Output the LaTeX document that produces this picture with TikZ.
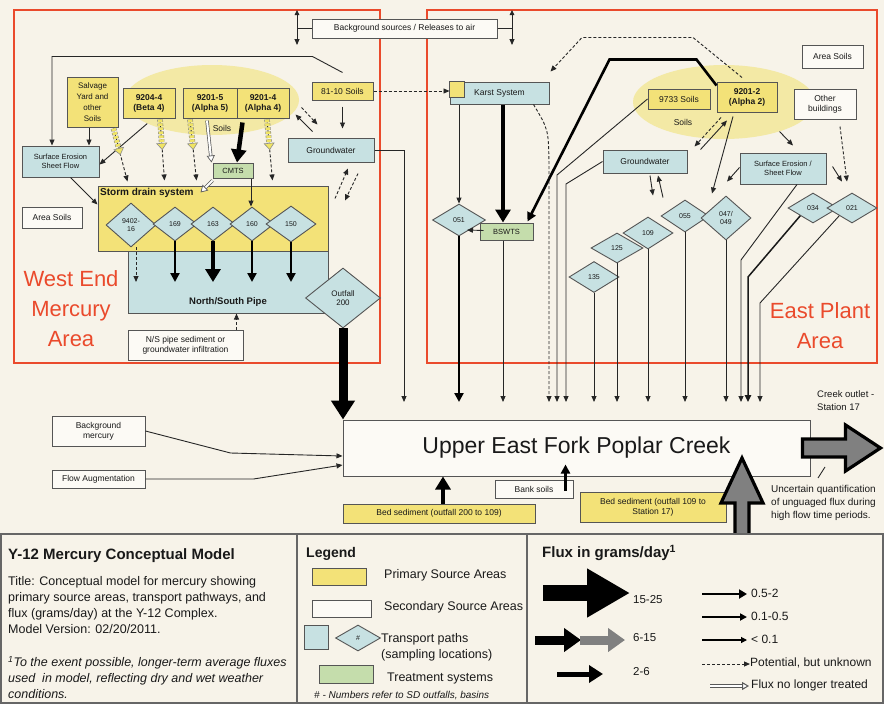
\documentclass[tikz,border=0pt]{standalone}
\usepackage{fontspec}
\setmainfont{Liberation Sans}
\usetikzlibrary{arrows.meta,shapes.geometric,calc}
\definecolor{bgc}{RGB}{247,243,233}
\definecolor{ybox}{RGB}{243,226,120}
\definecolor{yell}{RGB}{243,233,165}
\definecolor{yflx}{RGB}{240,228,100}
\definecolor{bbox}{RGB}{199,225,226}
\definecolor{gbox}{RGB}{197,221,172}
\definecolor{redl}{RGB}{234,74,44}
\definecolor{edge}{RGB}{85,85,85}
\definecolor{wbox}{RGB}{252,250,245}
\newcommand{\myfs}[2]{\fontsize{#1}{#2}\selectfont}
\begin{document}
\begin{tikzpicture}[x=1pt,y=-1pt,
  every node/.style={font=\myfs{8.5}{10}, text=black!90, inner sep=1pt},
  box/.style={rectangle, draw=edge, line width=1pt, align=center, inner sep=1pt},
  ybx/.style={box, fill=ybox},
  wbx/.style={box, fill=wbox},
  bbx/.style={box, fill=bbox},
  gbx/.style={box, fill=gbox},
  sz/.style 2 args={minimum width=#1, minimum height=#2},
  bld/.style={font=\myfs{8.5}{10}\bfseries},
  sml/.style={font=\myfs{7.5}{9}},
  dia/.style={diamond, draw=edge, line width=0.9pt, fill=bbox, inner sep=0pt, align=center, font=\myfs{7}{8}},
  redtxt/.style={font=\myfs{22}{30}, text=redl, align=center},
  ln/.style={draw=black!85, line width=0.9pt},
  ar/.style={ln, -{Triangle[length=6pt,width=5pt]}},
  ar1/.style={draw=black!90, line width=1.5pt, -{Triangle[length=7pt,width=6.5pt]}},
  ar2/.style={draw=black, line width=2.6pt, -{Triangle[length=9pt,width=9pt]}},
  ar3/.style={draw=black, line width=4.5pt, -{Triangle[length=13pt,width=15pt]}},
  ar4/.style={draw=black, line width=9pt, -{Triangle[length=19pt,width=23pt]}},
  pot/.style={draw=black!85, line width=0.9pt, dash pattern=on 3pt off 2pt, -{Triangle[length=6pt,width=5pt]}},
  hol/.style={draw=black!65, line width=0.7pt, double=white, double distance=2pt, -{Triangle[open, length=7pt, width=8pt, fill=white]}},
  yfl/.style={draw=black!45, line width=0.6pt, dash pattern=on 2.5pt off 1.5pt, double=yflx, double distance=4.5pt, -{Triangle[length=7pt, width=11pt, fill=yflx]}},
  bigout/.style={draw=black, line width=3.2pt, fill=black!50, line join=miter},
]
% background and frames
\path[use as bounding box, fill=bgc] (0,0) rectangle (884,704);
\draw[redl, line width=1.6pt] (14,10) rectangle (380,363);
\draw[redl, line width=1.6pt] (427,10) rectangle (877,363);
\node[redtxt] (westlbl) at (71,309) {West End\\Mercury\\Area};
\node[redtxt] (eastlbl) at (820,326) {East Plant\\Area};

% soil ellipses
\node[ellipse, fill=yell, sz={174pt}{70pt}, inner sep=0pt] (ellW) at (212,100) {};
\node[ellipse, fill=yell, sz={182pt}{74pt}, inner sep=0pt] (ellE) at (724,102) {};
\node (soilsW) at (222,128) {Soils};
\node (soilsE) at (683,122) {Soils};

% ---------- West End nodes ----------
\node[wbx, sz={185pt}{19pt}] (bgsrc) at (404.5,28.5) {Background sources / Releases to air};
\node[ybx, sz={51pt}{50pt}, font=\myfs{8}{11}] (salv) at (92.5,102) {Salvage\\Yard and\\other\\Soils};
\node[ybx, bld, sz={52pt}{30pt}] (beta4) at (149,103) {9204-4\\(Beta 4)};
\node[ybx, bld, sz={54pt}{30pt}] (alpha5) at (210,103) {9201-5\\(Alpha 5)};
\node[ybx, bld, sz={52pt}{30pt}] (alpha4) at (263,103) {9201-4\\(Alpha 4)};
\node[ybx, sz={61pt}{18pt}] (ten81) at (342.5,91) {81-10 Soils};
\node[bbx, sz={86pt}{24pt}] (gwW) at (331,150) {Groundwater};
\node[bbx, sml, sz={77pt}{31pt}] (seW) at (60.5,161.5) {Surface Erosion\\Sheet Flow};
\node[gbx, sml, sz={40pt}{15pt}] (cmts) at (233,170.5) {CMTS};
\node[wbx, sz={60pt}{21pt}] (areaW) at (52,217.5) {Area Soils};
\node[ybx, sz={230pt}{65pt}] (storm) at (213,218.5) {};
\node[bbx, sz={200pt}{62pt}] (nsp) at (228,282) {};
\node[anchor=west, font=\myfs{10}{12}\bfseries] (stormlbl) at (99,193) {Storm drain system};
\node[font=\myfs{9.5}{11}\bfseries] (nsplbl) at (228,302) {North/South Pipe};
\node[dia, sz={50pt}{44pt}] (d9402) at (131,225) {9402-\\16};
\node[dia, sz={44pt}{34pt}] (d169) at (175,224) {169};
\node[dia, sz={44pt}{34pt}] (d163) at (213,224) {163};
\node[dia, sz={44pt}{34pt}] (d160) at (252,224) {160};
\node[dia, sz={50pt}{36pt}] (d150) at (291,224) {150};
\node[wbx, sz={115pt}{30pt}] (sedi) at (185.5,345) {N/S pipe sediment or\\groundwater infiltration};
\node[dia, sz={75pt}{60pt}, font=\myfs{8}{9.5}] (out200) at (343,298) {Outfall\\200};

% ---------- East Plant nodes ----------
\node[bbx, sz={99pt}{22pt}] (karst) at (499.5,93) {Karst System};
\draw[fill=ybox, draw=edge, line width=0.8pt] (karst.north west) rectangle ++(15,16);
\node[dia, sz={53pt}{32pt}] (d051) at (459,220) {051};
\node[gbx, sml, sz={53pt}{17pt}] (bswts) at (506.5,231.5) {BSWTS};
\node[ybx, sz={62pt}{20pt}] (s9733) at (679,99) {9733 Soils};
\node[ybx, bld, sz={60pt}{30pt}] (alpha2) at (747,97) {9201-2\\(Alpha 2)};
\node[wbx, sz={61pt}{23pt}] (areaE) at (832.5,56.5) {Area Soils};
\node[wbx, sz={62pt}{30pt}] (other) at (825,104) {Other\\buildings};
\node[bbx, sz={84pt}{23pt}] (gwE) at (645,161.5) {Groundwater};
\node[bbx, sml, sz={86pt}{31pt}] (seE) at (783,168.5) {Surface Erosion /\\Sheet Flow};
\node[dia, sz={50pt}{31pt}] (d135) at (594,277) {135};
\node[dia, sz={52pt}{30pt}] (d125) at (617,248) {125};
\node[dia, sz={50pt}{32pt}] (d109) at (648,233) {109};
\node[dia, sz={48pt}{32pt}] (d055) at (685,216) {055};
\node[dia, sz={50pt}{44pt}] (d047) at (726,218) {047/\\049};
\node[dia, sz={50pt}{30pt}] (d034) at (813,208) {034};
\node[dia, sz={50pt}{30pt}] (d021) at (852,208) {021};

% ---------- Creek ----------
\node[wbx, sz={467pt}{56pt}, font=\myfs{23}{26}] (creek) at (576.5,448) {Upper East Fork Poplar Creek};
\node[wbx, sz={93pt}{30pt}] (bgm) at (98.5,431) {Background\\mercury};
\node[wbx, sz={93pt}{18pt}] (flow) at (98.5,479) {Flow Augmentation};
\node[ybx, sz={192pt}{19pt}] (bed1) at (439,513.5) {Bed sediment (outfall 200 to 109)};
\node[wbx, sz={78pt}{18pt}] (bank) at (534,489) {Bank soils};
\node[ybx, sz={146pt}{30pt}] (bed2) at (653,507) {Bed sediment (outfall 109 to\\Station 17)};
\node[anchor=west, align=left, font=\myfs{9.5}{13}] (outtxt) at (816,401) {Creek outlet -\\Station 17};
\node[anchor=north west, align=left, font=\myfs{10}{13}] (unctxt) at (770,484) {Uncertain quantification\\of unguaged flux during\\high flow time periods.};

% helper coordinates
\coordinate (ty) at (0,402);
\coordinate (nspin) at (0,282);
\coordinate (bl1) at (297,10);
\coordinate (bl2) at (297,45);
\coordinate (br1) at (512,10);
\coordinate (br2) at (512,45);

% ---------- West connectors ----------
\draw[ln] (bgsrc.west) -- (bgsrc.west -| bl1);
\draw[ln, {Triangle[length=5pt,width=4.5pt]}-{Triangle[length=6pt,width=5pt]}] (bl1) -- (bl2);
\draw[ln] (bgsrc.east) -- (bgsrc.east -| br1);
\draw[ln, {Triangle[length=5pt,width=4.5pt]}-{Triangle[length=6pt,width=5pt]}] (br1) -- (br2);

\draw[ar] ($(ten81.north)+(0,-9)$) -- ++(-30,-16) -| ($(seW.north)+(-8.5,0)$);
\draw[ar] ($(salv.south)+(-3.5,0)$) -- ($(seW.north)+(28.5,0)$);
\draw[ar] (ellW.200) -- ($(seW.east)+(0,3)$);
\draw[ar] ($(seW.south)+(10,0)$) -- ($(storm.north west)+(0,19)$);

\coordinate (ya1) at ($(salv.south east)+(-5,1)$);
\coordinate (yb1) at ($(storm.north west)+(30,-4)$);
\coordinate (ya2) at ($(beta4.south)+(11,1)$);
\coordinate (yb2) at ($(storm.north west)+(67,-5)$);
\coordinate (ya3) at ($(alpha5.south)+(-20,1)$);
\coordinate (yb3) at ($(storm.north west)+(99,-5)$);
\coordinate (ya4) at ($(alpha4.south)+(4,1)$);
\coordinate (yb4) at ($(storm.north west)+(175,-5)$);
\foreach \i in {1,2,3,4}{
  \draw[pot] (ya\i) -- (yb\i);
  \draw[yfl] (ya\i) -- ($(ya\i)!0.5!(yb\i)$);
}
\draw[hol] ($(alpha5.south)+(-3,2)$) -- ($(cmts.north west)+(-1,0)$);
\draw[hol] ($(cmts.south west)+(0,2)$) -- ($(storm.north west)+(103,7)$);
\draw[ar3] ($(alpha4.south west)+(6,4)$) -- ($(cmts.north)+(4,0)$);
\coordinate (cm1) at ($(cmts.south)+(18,0)$);
\draw[ar] (cm1) -- (cm1 |- d160.north);

\draw[pot] ($(gwW.north west)+(14,-30)$) -- ($(gwW.north west)+(30,-13)$);
\draw[ar] ($(gwW.north west)+(25,-6)$) -- ($(gwW.north west)+(8,-23)$);
\draw[ar] ($(ten81.south)+(0,6)$) -- ($(ten81.south |- gwW.north)+(0,-9)$);
\draw[pot] ($(gwW.south)+(4,36)$) -- ($(gwW.south)+(17,6)$);
\draw[pot] ($(gwW.south)+(27,11)$) -- ($(gwW.south)+(14,38)$);
\coordinate (c404) at (404,402);
\draw[ar] (gwW.east) -| (c404);

\coordinate (p1) at ($(d9402.south)+(5,0)$);
\draw[pot] (p1) -- (p1 |- nspin);
\draw[ar2] (d169.south) -- (d169.south |- nspin);
\draw[ar3] (d163.south) -- (d163.south |- nspin);
\draw[ar2] (d160.south) -- (d160.south |- nspin);
\draw[ar2] (d150.south) -- (d150.south |- nspin);
\coordinate (p2) at ($(sedi.north east)+(-7,0)$);
\draw[pot] (p2) -- (p2 |- nsp.south);
\draw[ar4] (out200.south) -- (out200.south |- creek.north);

% ---------- East connectors ----------
\draw[pot] (ten81.east) -- (ten81.east -| karst.west);
\draw[pot] ($(alpha2.north)+(-5,-4)$) -- ++(-49,-40) -- ++(-111,0) -- ($(karst.north east)+(1,-10)$);
\draw[ar2] ($(alpha2.north west)+(0,4)$) -- ++(-20,-26) -- ++(-87,0) -- ($(bswts.north east)+(-6,-1)$);
\draw[ar] (d051.north |- karst.south) -- (d051.north);
\coordinate (c503) at (503,402);
\draw[ar3] (c503 |- karst.south) -- (c503 |- bswts.north);
\draw[ar] ($(bswts.west)+(4,-1)$) -- ($(d051.center)+(8,10)$);
\coordinate (k549) at (549,165);
\draw[pot] ($(karst.south east)+(-16,0)$) .. controls ($(karst.south east)+(-1,25)$) .. (k549) -- (k549 |- ty);
\coordinate (k557) at (557,175);
\draw[ar] (s9733.west) -- (k557) -- (k557 |- ty);
\coordinate (k566) at (566,184);
\draw[ar] (gwE.west) -- (k566) -- (k566 |- ty);
\draw[ar] (d135.south) -- (d135.south |- ty);
\draw[ar] (d125.south) -- (d125.south |- ty);
\draw[ar] (d109.south) -- (d109.south |- ty);
\draw[ar] (d055.south) -- (d055.south |- ty);
\draw[ar] (d047.south) -- (d047.south |- ty);
\draw[ar2] (d051.south) -- (d051.south |- ty);
\draw[ar] (c503 |- bswts.south) -- (c503);
\coordinate (kse) at (741,260);
\draw[ar] ($(seE.south)+(14,0)$) -- (kse) -- (kse |- ty);
\coordinate (k034) at (748,277);
\draw[ar1] (d034.south west) -- (k034) -- (k034 |- ty);
\coordinate (k021) at (760,303);
\draw[ar] (d021.south west) -- (k021) -- (k021 |- ty);

\draw[ar] ($(alpha2.south)+(-14,4)$) -- ($(d047.north)+(-14,-2)$);
\draw[ar] ($(seE.west)+(0,-1)$) -- ($(d047.north)+(1,-14)$);
\draw[ar] ($(seE.east)+(6,-2)$) -- ($(d021.north)+(-10,-11)$);
\draw[pot] ($(other.south)+(15,7)$) -- ($(d021.north)+(-5,-11)$);
\draw[ar] (ellE.-28) -- ($(seE.north)+(10,-7)$);
\draw[pot] ($(alpha2.south)+(-26,5)$) -- ($(gwE.north east)+(7,-3)$);
\draw[ar] ($(gwE.north east)+(13,0)$) -- ($(alpha2.south)+(-20,8)$);
\draw[ar] ($(gwE.south)+(5,2)$) -- ($(gwE.south)+(8,22)$);
\draw[ar] ($(gwE.south)+(18,24)$) -- ($(gwE.south)+(13,2)$);

% ---------- Creek connectors ----------
\draw[ar] (bgm.east) -- ++(85,22) -- ($(creek.west)+(0,8)$);
\draw[ar] (flow.east) -- ++(108,0) -- ($(creek.west)+(0,17)$);
\coordinate (p3) at ($(bed1.north)+(4,0)$);
\draw[ar3] (p3) -- (p3 |- creek.south);
\coordinate (p4) at ($(bank.east)+(-8,2)$);
\draw[ar2] (p4) -- ($(p4 |- creek.south)+(0,-12)$);
\draw[bigout] (735,534) -- (735,503) -- (721,503) -- (742,458) -- (763,503) -- (749,503) -- (749,534);
\draw[bigout] ($(creek.east)+(-8,-9)$) -- ++(43,0) -- ++(0,-14) -- ++(35,23) -- ++(-35,23) -- ++(0,-14) -- ++(-43,0) -- cycle;
\draw[ln] ($(unctxt.north west)+(48,-6)$) -- ++(7,-11);

% ---------- Legend panel ----------
\draw[draw=black!60, line width=2.5pt] (0,534) -- (884,534);
\draw[draw=black!60, line width=1.5pt] (1,534) -- (1,703) -- (883,703) -- (883,534);
\draw[draw=black!60, line width=1.5pt] (297,534) -- (297,703);
\draw[draw=black!60, line width=1.5pt] (527,534) -- (527,703);

\node[anchor=west, font=\myfs{15}{18}\bfseries] (ltitle) at (7,556) {Y-12 Mercury Conceptual Model};
\node[anchor=north west, align=left, font=\myfs{12.5}{16}] (ldesc) at (7,575) {Title: Conceptual model for mercury showing\\primary source areas, transport pathways, and\\flux (grams/day) at the Y-12 Complex.\\Model Version: 02/20/2011.};
\node[anchor=north west, align=left, font=\myfs{12.5}{16}\itshape] (lnote) at (7,655) {\textsuperscript{1}To the exent possible, longer-term average fluxes\\used\ \ in model, reflecting dry and wet weather\\conditions.};

\node[anchor=west, font=\myfs{14}{16}\bfseries] (lleg) at (305,554) {Legend};
\node[ybx, sz={54pt}{17pt}] (lyel) at (339,576.5) {};
\node[anchor=west, font=\myfs{12.5}{15}] (lyelt) at (383,575) {Primary Source Areas};
\node[wbx, sz={59pt}{17pt}] (lwht) at (341.5,608.5) {};
\node[anchor=west, font=\myfs{12.5}{15}] (lwhtt) at (383,607) {Secondary Source Areas};
\node[bbx, sz={24pt}{24pt}] (lblu) at (316,637) {};
\node[dia, sz={45pt}{26pt}] (ldia) at (358,638) {\#};
\node[anchor=west, align=left, font=\myfs{12.5}{16}] (ldiat) at (380,647) {Transport paths\\(sampling locations)};
\node[gbx, sz={54pt}{18pt}] (lgrn) at (346,674) {};
\node[anchor=west, font=\myfs{12.5}{15}] (lgrnt) at (386,678) {Treatment systems};
\node[anchor=west, font=\myfs{10}{12}\itshape] (lnum) at (313,696) {\# - Numbers refer to SD outfalls, basins};

\node[anchor=west, font=\myfs{15}{18}\bfseries] (lflux) at (541,553) {Flux in grams/day\textsuperscript{1}};
\draw[draw=black, line width=16pt, -{Triangle[length=43pt,width=46pt]}] (543,593) -- (630,593);
\node[anchor=west, font=\myfs{11.5}{13}] (l1) at (632,600) {15-25};
\draw[draw=black, line width=9pt, -{Triangle[length=17pt,width=23pt]}] (535,640) -- (581,640);
\draw[draw=black!50, line width=9pt, -{Triangle[length=17pt,width=23pt]}] (580,640) -- (625,640);
\node[anchor=west, font=\myfs{11.5}{13}] (l2) at (632,638) {6-15};
\draw[draw=black, line width=5pt, -{Triangle[length=14pt,width=17pt]}] (557,674) -- (603,674);
\node[anchor=west, font=\myfs{11.5}{13}] (l3) at (632,672) {2-6};
\draw[draw=black, line width=2.8pt, -{Triangle[length=8pt,width=9pt]}] (702,594) -- (747,594);
\node[anchor=west, font=\myfs{12}{14}] (l4) at (750,593) {0.5-2};
\draw[draw=black, line width=1.8pt, -{Triangle[length=7pt,width=7pt]}] (702,617) -- (747,617);
\node[anchor=west, font=\myfs{12}{14}] (l5) at (750,616) {0.1-0.5};
\draw[draw=black, line width=1.1pt, -{Triangle[length=6pt,width=6pt]}] (702,640) -- (747,640);
\node[anchor=west, font=\myfs{12}{14}] (l6) at (750,639) {< 0.1};
\draw[pot, line width=1pt] (702,664) -- (750,664);
\node[anchor=west, font=\myfs{12}{14}] (l7) at (749,663) {Potential, but unknown};
\draw[hol, line width=1pt, double distance=2.5pt] (710,686) -- (749,686);
\node[anchor=west, font=\myfs{12}{14}] (l8) at (750,685) {Flux no longer treated};
\end{tikzpicture}
\end{document}
